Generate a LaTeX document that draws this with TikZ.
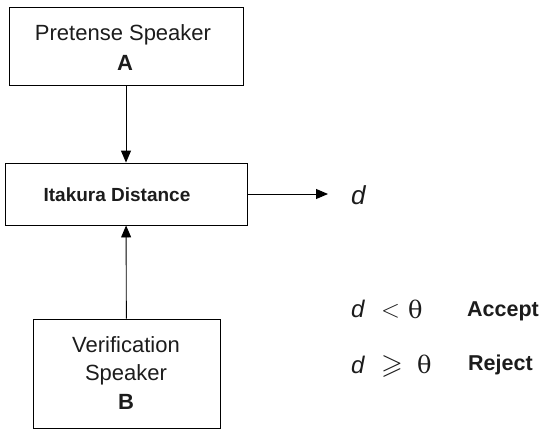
\documentclass[tikz,border=0pt]{standalone}
\usepackage{amssymb}
\usepackage{fontspec}
\setmainfont{Liberation Sans}
\newfontfamily\serifgreek{DejaVu Serif}
\usetikzlibrary{arrows.meta}
\definecolor{ink}{HTML}{1C1C1C}
\tikzset{
  box/.style={draw, line width=0.9pt, inner sep=0pt},
  conn/.style={line width=0.9pt, -{Triangle[length=12pt,width=10pt]}},
  lbl/.style={inner sep=0pt, anchor=base west, text=ink},
  ctr/.style={inner sep=0pt, anchor=base, text=ink},
  big/.style={font=\fontsize{22}{22}\selectfont},
  bigbold/.style={font=\fontsize{22}{22}\selectfont\bfseries},
  var/.style={font=\fontsize{24}{24}\selectfont\itshape},
  greek/.style={font=\fontsize{24}{24}\selectfont\serifgreek},
}
\begin{document}
\begin{tikzpicture}[x=1pt,y=-1pt]
  \useasboundingbox (0,0) rectangle (543,432);
  % blocks
  \node[box, minimum width=234pt, minimum height=78pt] (spkA) at (126,46) {};
  \node[box, minimum width=242pt, minimum height=62pt] (dist) at (126,194) {};
  \node[box, minimum width=187pt, minimum height=109pt] (spkB) at (126.5,373.5) {};
  % block captions
  \node[ctr, big] (tA1) at (123,40) {Pretense Speaker};
  \node[ctr, bigbold] (tA2) at (125,70) {A};
  \node[ctr, font=\fontsize{19}{19}\selectfont\bfseries] (tD) at (117,201) {Itakura Distance};
  \node[ctr, big] (tB1) at (126,352) {Verification};
  \node[ctr, big] (tB2) at (126,380) {Speaker};
  \node[ctr, bigbold] (tB3) at (126,409) {B};
  % signal flow
  \coordinate (out) at (328,194);
  \draw[conn] (spkA) -- (dist);
  \draw[conn] (spkB) -- (dist);
  \draw[conn] (dist) -- (out);
  % distance output
  \node[lbl, font=\fontsize{26}{26}\selectfont\itshape] (dout) at (351,204) {d};
  % decision rule
  \node[lbl, var] (d1) at (351,317) {d};
  \node[lbl, font=\fontsize{25}{25}\selectfont] (lt) at (381,317) {$<$};
  \node[lbl, greek] (th1) at (408,318) {θ};
  \node[lbl, font=\fontsize{21.5}{22}\selectfont\bfseries] (acc) at (467,316) {Accept};
  \node[lbl, var] (d2) at (351,373) {d};
  \node[lbl, font=\fontsize{28}{28}\selectfont] (ge) at (381,373) {$\geqslant$};
  \node[lbl, greek] (th2) at (417,373) {θ};
  \node[lbl, font=\fontsize{21.5}{22}\selectfont\bfseries] (rej) at (468,370) {Reject};
\end{tikzpicture}
\end{document}
